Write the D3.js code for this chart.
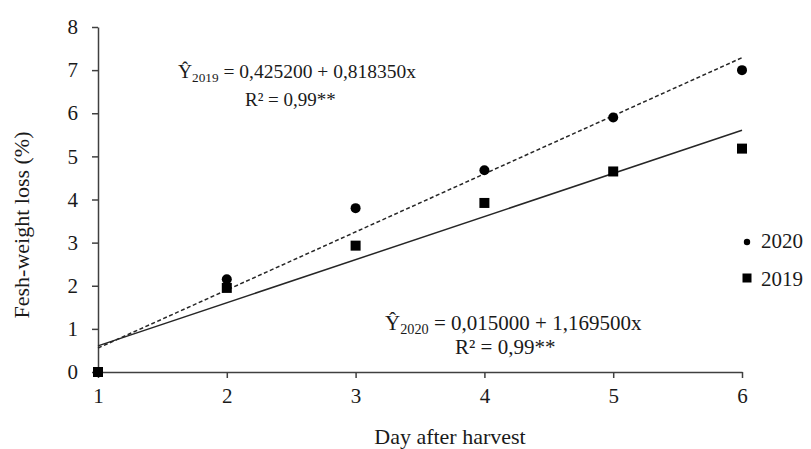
<!DOCTYPE html>
<html>
<head>
<meta charset="utf-8">
<script src="https://cdn.jsdelivr.net/npm/d3@7"></script>
<style>
  body { margin: 0; background: #fff; }
  svg text { font-family: "Liberation Serif", "Times New Roman", serif; fill: #1a1a1a; }
  .axis path, .axis line { stroke: #404040; stroke-width: 1.5; }
  .axis text { font-size: 21px; }
</style>
</head>
<body>
<svg id="chart"></svg>
<script>
// data
const days = [1, 2, 3, 4, 5, 6];
const loss2020 = [0, 2.15, 3.8, 4.68, 5.9, 7.0];
const loss2019 = [0, 1.95, 2.93, 3.92, 4.65, 5.18];
const yTicks = [0, 1, 2, 3, 4, 5, 6, 7, 8];

const width = 811, height = 449;
const margin = { top: 27, right: 69, bottom: 77, left: 98 };

const svg = d3.select('#chart')
    .attr('width', width)
    .attr('height', height);

const xScale = d3.scaleLinear()
    .domain([1, 6])
    .range([margin.left, width - margin.right]);

const yScale = d3.scaleLinear()
    .domain([0, 8])
    .range([height - margin.bottom, margin.top]);

// least squares fit, used for the trend lines
function fit(xs, ys) {
    const mx = d3.mean(xs), my = d3.mean(ys);
    const sxy = d3.sum(xs, (x, i) => (x - mx) * (ys[i] - my));
    const sxx = d3.sum(xs, x => (x - mx) * (x - mx));
    const b = sxy / sxx;
    return { a: my - b * mx, b: b };
}

const xAxis = d3.axisBottom(xScale)
    .tickValues(days)
    .tickFormat(d3.format('d'))
    .tickSize(6)
    .tickSizeOuter(0)
    .tickPadding(10);

const yAxis = d3.axisLeft(yScale)
    .tickValues(yTicks)
    .tickSize(6)
    .tickSizeOuter(0)
    .tickPadding(14);

svg.append('g')
    .attr('class', 'axis x-axis')
    .attr('transform', `translate(0,${yScale(0)})`)
    .call(xAxis);

svg.append('g')
    .attr('class', 'axis y-axis')
    .attr('transform', `translate(${xScale(1)},0)`)
    .call(yAxis);

// trend lines
const series = [
    { key: '2020', values: loss2020, dash: '4,2.5' },
    { key: '2019', values: loss2019, dash: null }
];

const line = d3.line()
    .x(d => xScale(d[0]))
    .y(d => yScale(d[1]));

series.forEach(s => {
    const f = fit(days, s.values);
    const ends = [days[0], days[days.length - 1]].map(x => [x, f.a + f.b * x]);
    svg.append('path')
        .datum(ends)
        .attr('d', line)
        .attr('fill', 'none')
        .attr('stroke', '#262626')
        .attr('stroke-width', 1.5)
        .attr('stroke-dasharray', s.dash);
});

// points
svg.selectAll('.dot2020')
    .data(days.map((d, i) => [d, loss2020[i]]))
    .join('circle')
    .attr('class', 'dot2020')
    .attr('cx', d => xScale(d[0]))
    .attr('cy', d => yScale(d[1]))
    .attr('r', 5)
    .attr('fill', '#000');

svg.selectAll('.sq2019')
    .data(days.map((d, i) => [d, loss2019[i]]))
    .join('rect')
    .attr('class', 'sq2019')
    .attr('x', d => xScale(d[0]) - 5)
    .attr('y', d => yScale(d[1]) - 5)
    .attr('width', 10)
    .attr('height', 10)
    .attr('fill', '#000');

// equations
function equation(x, y, size, year, body) {
    const t = svg.append('text')
        .attr('x', x)
        .attr('y', y)
        .attr('font-size', size);
    t.append('tspan').text('Ŷ');
    t.append('tspan').attr('font-size', size * 0.68).attr('dy', 4).text(year);
    t.append('tspan').attr('dy', -4).text(' = ' + body);
}

equation(178, 78, 19.5, '2019', '0,425200 + 0,818350x');
svg.append('text')
    .attr('x', 245).attr('y', 106)
    .attr('font-size', 19)
    .text('R² = 0,99**');

equation(385, 330, 21, '2020', '0,015000 + 1,169500x');
svg.append('text')
    .attr('x', 455).attr('y', 354)
    .attr('font-size', 21)
    .text('R² = 0,99**');

// legend
const legend = svg.append('g').attr('transform', 'translate(747,0)');
legend.append('circle').attr('cx', 0).attr('cy', 242).attr('r', 3.2).attr('fill', '#000');
legend.append('text').attr('x', 14).attr('y', 248).attr('font-size', 21).text('2020');
legend.append('rect').attr('x', -4.5).attr('y', 273.5).attr('width', 9).attr('height', 9).attr('fill', '#000');
legend.append('text').attr('x', 14).attr('y', 286).attr('font-size', 21).text('2019');

// axis titles
svg.append('text')
    .attr('x', 450)
    .attr('y', 444)
    .attr('text-anchor', 'middle')
    .attr('font-size', 22)
    .text('Day after harvest');

svg.append('text')
    .attr('transform', `translate(29,225) rotate(-90)`)
    .attr('text-anchor', 'middle')
    .attr('font-size', 22)
    .text('Fesh-weight loss (%)');
</script>
</body>
</html>
